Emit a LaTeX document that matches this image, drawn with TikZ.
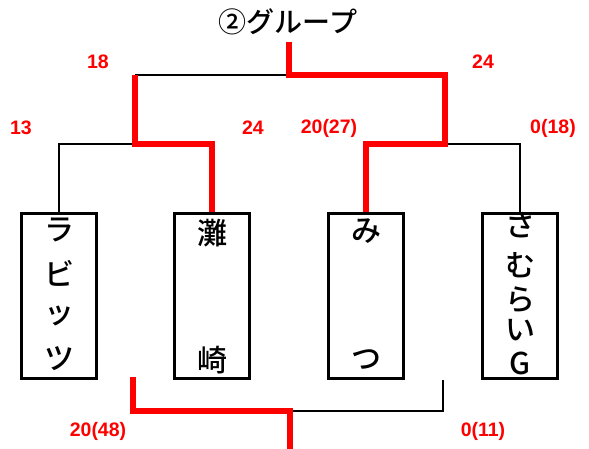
\documentclass[tikz,border=0pt]{standalone}
\usepackage{fontspec}
\setmainfont{Noto Sans CJK JP Medium}
\newfontfamily\numfont{Liberation Sans}
\usetikzlibrary{positioning}
\definecolor{winred}{RGB}{255,0,0}

\begin{document}
\begin{tikzpicture}[
  x=1pt,y=-1pt,
  team/.style={draw,line width=2.8pt,minimum width=75.5pt,minimum height=165.5pt,inner sep=0pt},
  kana/.style={font=\fontsize{30}{30}\selectfont,inner sep=0pt},
  score/.style={font=\numfont\bfseries\fontsize{19.5}{19.5}\selectfont,text=winred,inner sep=0pt},
  lost/.style={line width=2.8pt},
  won/.style={line width=6.5pt,draw=winred}
]
\useasboundingbox (0,0) rectangle (589,449);

% ---- title ----
\node[font=\fontsize{28}{28}\selectfont] (title) at (288,22) {②グループ};

% ---- team boxes ----
\node[team] (rab) at (59,296)  {};
\node[team] (nad) at (212,296) {};
\node[team] (mit) at (366,296) {};
\node[team] (sam) at (520,296) {};

% box texts (vertical)
\node[kana] (rab1) at (59,230) {ラ};
\node[kana] (rab2) at (59,273) {ビ};
\node[kana] (rab3) at (59,316) {ッ};
\node[kana] (rab4) at (59,359) {ツ};
\node[kana] (nad1) at (212,233) {灘};
\node[kana] (nad2) at (212,360) {崎};
\node[kana] (mit1) at (366,231) {み};
\node[kana] (mit2) at (366,360) {つ};
\node[kana] (sam1) at (520,225) {さ};
\node[kana] (sam2) at (520,265) {む};
\node[kana] (sam3) at (520,300) {ら};
\node[kana] (sam4) at (520,330) {い};
\node[kana] (sam5) at (520,363) {G};

% ---- bracket points ----
\coordinate (lj)  at (135,144);
\coordinate (rj)  at (445,144);
\coordinate (top) at (289,75);
\coordinate (tip) at (289,42);
\coordinate (bl)  at (133,377);
\coordinate (br)  at (443,380);
\coordinate (bj)  at (290,411);
\coordinate (bot) at (290,449);

% ---- scores ----
\node[score] (s18)  at (98,62)   {18};
\node[score] (s24a) at (483,62)  {24};
\node[score] (s13)  at (21,128)  {13};
\node[score] (s24b) at (253,128) {24};
\node[score] (s20a) at (329,128) {20(27)};
\node[score] (s0a)  at (553,128) {0(18)};
\node[score] (s20b) at (98,431)  {20(48)};
\node[score] (s0b)  at (483,431) {0(11)};

% losing lines
\draw[lost] (rab.north) |- (lj);
\draw[lost] (sam.north) |- (rj);
\draw[lost] (lj |- top) -- (top);
\draw[lost] (br) |- (bj);

% winning lines
\draw[won] (nad.north) |- (lj) -- (lj |- top);
\draw[won] (tip) -- (top) -| (rj) -| (mit.north);
\draw[won] (bl) |- (bj) -- (bot);

\end{tikzpicture}
\end{document}
